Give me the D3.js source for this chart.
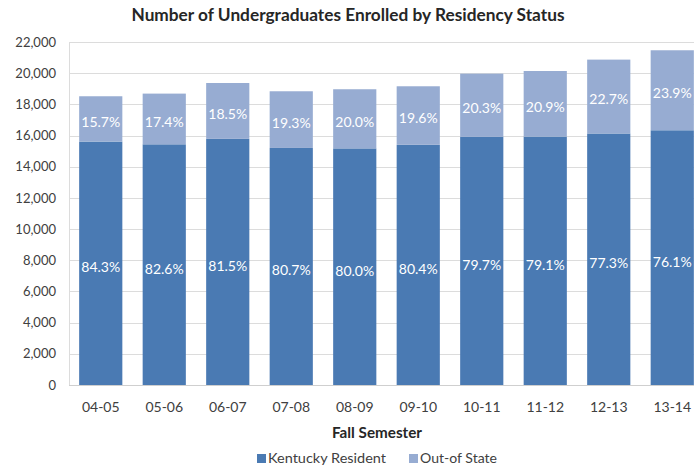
<!DOCTYPE html>
<html>
<head>
<meta charset="utf-8">
<script src="https://cdn.jsdelivr.net/npm/d3@7"></script>
<style>
  html, body { margin: 0; padding: 0; background: #fff; }
  svg { display: block; overflow: hidden; }
  text { font-family: Lato, "Open Sans", sans-serif; }
</style>
</head>
<body>
<div id="chart"></div>
<script>
// data
var semesters = ["04-05", "05-06", "06-07", "07-08", "08-09", "09-10", "10-11", "11-12", "12-13", "13-14"];
var totals = [18520, 18690, 19370, 18840, 18970, 19160, 19970, 20140, 20870, 21470];
var residentPct = [84.3, 82.6, 81.5, 80.7, 80.0, 80.4, 79.7, 79.1, 77.3, 76.1];
var outOfStatePct = [15.7, 17.4, 18.5, 19.3, 20.0, 19.6, 20.3, 20.9, 22.7, 23.9];
var yTicks = [0, 2000, 4000, 6000, 8000, 10000, 12000, 14000, 16000, 18000, 20000, 22000];
var seriesNames = ["Kentucky Resident", "Out-of State"];

var W = 694, H = 471;
var colors = { "Kentucky Resident": "#4a7ab3", "Out-of State": "#97acd2" };

var rows = semesters.map(function (s, i) {
    var ky = totals[i] * residentPct[i] / 100;
    return {
        sem: s,
        "Kentucky Resident": ky,
        "Out-of State": totals[i] - ky,
        pct: { "Kentucky Resident": residentPct[i], "Out-of State": outOfStatePct[i] }
    };
});

var svg = d3.select("#chart").append("svg")
    .attr("width", W)
    .attr("height", H);

// plot runs past the right edge, the original picture is cropped there
var x = d3.scaleBand()
    .domain(semesters)
    .range([69, 704])
    .paddingInner(0.32)
    .paddingOuter(0.16);

var y = d3.scaleLinear()
    .domain([0, 22000])
    .range([385, 42]);

// gridlines
svg.append("g")
    .selectAll("line")
    .data(yTicks.slice(1))
    .enter().append("line")
    .attr("x1", 69)
    .attr("x2", W)
    .attr("y1", function (d) { return Math.round(y(d)) + 0.5; })
    .attr("y2", function (d) { return Math.round(y(d)) + 0.5; })
    .attr("stroke", "#dcdcdc")
    .attr("stroke-width", 1);

// left edge and baseline
svg.append("line")
    .attr("x1", 69.5).attr("x2", 69.5)
    .attr("y1", y(22000)).attr("y2", y(0))
    .attr("stroke", "#dcdcdc");
svg.append("line")
    .attr("x1", 69).attr("x2", W)
    .attr("y1", Math.round(y(0)) + 0.5).attr("y2", Math.round(y(0)) + 0.5)
    .attr("stroke", "#cfcfcf");

// y axis labels
var yAxis = svg.append("g")
    .attr("transform", "translate(56,0)")
    .call(d3.axisLeft(y).tickValues(yTicks).tickSize(0).tickPadding(0).tickFormat(d3.format(",")));
yAxis.select(".domain").remove();
yAxis.selectAll("text")
    .attr("font-size", "13px")
    .attr("font-family", "Lato, 'Open Sans', sans-serif")
    .attr("fill", "#404040");

// x axis labels
var xAxis = svg.append("g")
    .attr("transform", "translate(0," + (y(0) + 17) + ")")
    .call(d3.axisBottom(x).tickSize(0).tickPadding(0));
xAxis.select(".domain").remove();
xAxis.selectAll("text")
    .attr("font-size", "14px")
    .attr("font-family", "Lato, 'Open Sans', sans-serif")
    .attr("fill", "#404040");

// stacked bars
var stacked = d3.stack().keys(seriesNames)(rows);

var layer = svg.append("g")
    .selectAll("g")
    .data(stacked)
    .enter().append("g")
    .attr("fill", function (d) { return colors[d.key]; });

layer.selectAll("rect")
    .data(function (d) { return d; })
    .enter().append("rect")
    .attr("x", function (d) { return x(d.data.sem); })
    .attr("y", function (d) { return y(d[1]); })
    .attr("height", function (d) { return y(d[0]) - y(d[1]); })
    .attr("width", x.bandwidth());

// percent labels
layer.each(function (s) {
    d3.select(this).selectAll("text")
        .data(s)
        .enter().append("text")
        .attr("x", function (d) { return x(d.data.sem) + x.bandwidth() / 2; })
        .attr("y", function (d) {
            var mid = (y(d[0]) + y(d[1])) / 2;
            return s.key === "Kentucky Resident" ? mid + 4 : mid + 3;
        })
        .attr("dy", "0.35em")
        .attr("text-anchor", "middle")
        .attr("font-size", "14px")
        .attr("fill", "#ffffff")
        .text(function (d) { return d.data.pct[s.key].toFixed(1) + "%"; });
});

// title
svg.append("text")
    .attr("x", 348)
    .attr("y", 21)
    .attr("text-anchor", "middle")
    .attr("font-size", "16.5px")
    .attr("font-weight", "bold")
    .attr("fill", "#262626")
    .attr("textLength", 433)
    .attr("lengthAdjust", "spacingAndGlyphs")
    .text("Number of Undergraduates Enrolled by Residency Status");

// x axis title
svg.append("text")
    .attr("x", 377)
    .attr("y", 438)
    .attr("text-anchor", "middle")
    .attr("font-size", "14.5px")
    .attr("font-weight", "bold")
    .attr("fill", "#262626")
    .attr("textLength", 90)
    .attr("lengthAdjust", "spacingAndGlyphs")
    .text("Fall Semester");

// legend
var legendX = [257, 409];
var legendW = [118, 77];
var legend = svg.append("g")
    .attr("transform", "translate(0,458.5)")
    .selectAll("g")
    .data(seriesNames)
    .enter().append("g")
    .attr("transform", function (d, i) { return "translate(" + legendX[i] + ",0)"; });

legend.append("rect")
    .attr("x", 0)
    .attr("y", -4.5)
    .attr("width", 9)
    .attr("height", 9)
    .attr("fill", function (d) { return colors[d]; });

legend.append("text")
    .attr("x", 11)
    .attr("y", 0)
    .attr("dy", "0.35em")
    .attr("font-size", "14px")
    .attr("fill", "#404040")
    .attr("textLength", function (d, i) { return legendW[i]; })
    .attr("lengthAdjust", "spacingAndGlyphs")
    .text(function (d) { return d; });
</script>
</body>
</html>
